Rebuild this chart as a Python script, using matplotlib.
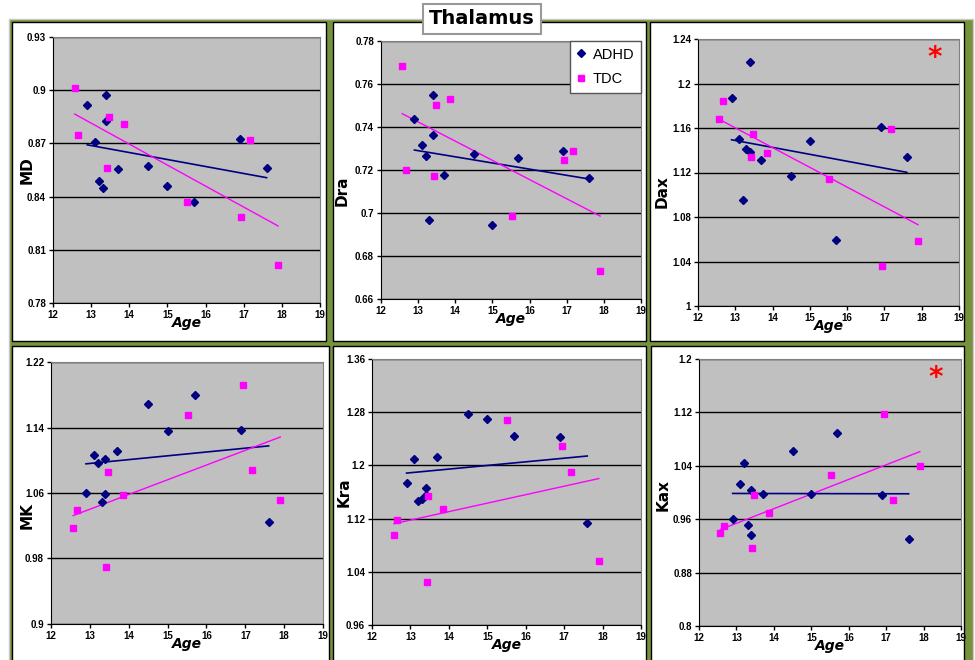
import matplotlib
matplotlib.use("Agg")
import matplotlib.pyplot as plt
from matplotlib.patches import Rectangle
import numpy as np

# ages of the two groups (same in every panel)
age_adhd = [12.9, 13.1, 13.2, 13.3, 13.4, 13.4, 13.7, 14.5, 15.0, 15.7, 16.9, 17.6]
age_tdc = [12.57, 12.66, 13.42, 13.47, 13.86, 15.52, 16.94, 17.17, 17.9]

md_adhd = [0.8914, 0.871, 0.849, 0.8449, 0.8971, 0.8827, 0.8555, 0.8572, 0.8458, 0.8367, 0.8725, 0.8559]
md_tdc = [0.9013, 0.8746, 0.8562, 0.885, 0.8812, 0.8369, 0.8286, 0.8721, 0.8016]

dra_adhd = [0.7437, 0.7316, 0.7263, 0.6968, 0.7551, 0.7361, 0.7178, 0.7276, 0.6945, 0.7256, 0.7287, 0.7163]
dra_tdc = [0.7684, 0.7198, 0.7174, 0.7503, 0.7528, 0.6988, 0.7245, 0.7287, 0.673]

dax_adhd = [1.1871, 1.1499, 1.0949, 1.1412, 1.2193, 1.1388, 1.1309, 1.1171, 1.1481, 1.0595, 1.1607, 1.134]
dax_tdc = [1.1682, 1.1844, 1.1343, 1.155, 1.1379, 1.1141, 1.0363, 1.1592, 1.0586]

mk_adhd = [1.0594, 1.1069, 1.0972, 1.0484, 1.1013, 1.0586, 1.1118, 1.1692, 1.1362, 1.1801, 1.137, 1.0248]
mk_tdc = [1.0171, 1.0398, 0.9699, 1.0862, 1.0577, 1.1557, 1.1919, 1.0886, 1.0516]

kra_adhd = [1.173, 1.2096, 1.147, 1.149, 1.1665, 1.156, 1.2121, 1.2773, 1.2693, 1.2437, 1.2422, 1.1134]
kra_tdc = [1.0948, 1.1174, 1.0247, 1.1545, 1.1339, 1.2688, 1.2287, 1.1906, 1.0567]

kax_adhd = [0.9605, 1.012, 1.044, 0.951, 1.003, 0.9365, 0.998, 1.062, 0.9975, 1.089, 0.997, 0.9305]
kax_tdc = [0.94, 0.9505, 0.9175, 0.997, 0.97, 1.0255, 1.117, 0.9895, 1.0395]

names = ["MD", "Dra", "Dax", "MK", "Kra", "Kax"]
adhd_vals = [md_adhd, dra_adhd, dax_adhd, mk_adhd, kra_adhd, kax_adhd]
tdc_vals = [md_tdc, dra_tdc, dax_tdc, mk_tdc, kra_tdc, kax_tdc]
y_ranges = [(0.78, 0.93, 0.03), (0.66, 0.78, 0.02), (1.0, 1.24, 0.04),
            (0.9, 1.22, 0.08), (0.96, 1.36, 0.08), (0.8, 1.2, 0.08)]
significant = [False, False, True, False, False, True]

W, H = 975, 660
fig = plt.figure(figsize=(W / 100, H / 100), dpi=100)
fig.patch.set_facecolor("white")


def box(x0, y0, x1, y1, **kw):
    # rectangle given in image pixels (origin top-left)
    r = Rectangle((x0 / W, 1 - y1 / H), (x1 - x0) / W, (y1 - y0) / H,
                  transform=fig.transFigure, **kw)
    fig.add_artist(r)


# green frame with the six white panels
box(9, 19, 973, 665, facecolor="#76923c", edgecolor="#c8c8c8", lw=1, zorder=-3)
panels = [(12, 22, 326, 341), (333, 22, 646, 341), (650, 22, 964, 341),
          (12, 346, 329, 665), (333, 346, 646, 665), (651, 346, 964, 665)]
for p in panels:
    box(*p, facecolor="white", edgecolor="black", lw=1, zorder=-2)

# plot areas (pixels: left, right, top, bottom)
areas = [(53, 320, 37, 303), (381, 641, 41, 299), (698, 959, 39, 306),
         (51, 323, 362, 624), (372, 641, 359, 625), (699, 961, 359, 626)]
ylabel_pos = [(-0.067, 0.5), (-0.12, 0.42), (-0.107, 0.43),
              (-0.06, 0.415), (-0.074, 0.5), (-0.11, 0.49)]

for i in range(6):
    l, r, t, b = areas[i]
    ax = fig.add_axes([l / W, 1 - b / H, (r - l) / W, (b - t) / H])
    ax.set_facecolor("#c0c0c0")
    ax.set_axisbelow(True)

    y0, y1, step = y_ranges[i]
    ax.set_xlim(12, 19)
    ax.set_ylim(y0, y1)
    ax.set_xticks(range(12, 20))
    yt = np.arange(y0, y1 + step / 2, step)
    ax.set_yticks(yt)
    ax.set_yticklabels([f"{round(v, 4):g}" for v in yt])
    ax.tick_params(direction="out", length=3, width=1, labelsize=7, pad=2)
    for lab in ax.get_xticklabels() + ax.get_yticklabels():
        lab.set_fontweight("bold")
        lab.set_family("Liberation Sans")
    ax.yaxis.grid(True, color="black", lw=1)

    for s in ["top", "right"]:
        ax.spines[s].set_color("#808080")
    for s in ["left", "bottom"]:
        ax.spines[s].set_color("black")

    xa = np.array(age_adhd)
    xt = np.array(age_tdc)
    ya = np.array(adhd_vals[i])
    yb = np.array(tdc_vals[i])

    ax.plot(xa, ya, "D", color="#000080", ms=3.6, ls="none", label="ADHD", zorder=3)
    ax.plot(xt, yb, "s", color="#ff00ff", ms=4.5, ls="none", label="TDC", zorder=3)

    # linear trend lines
    k, c = np.polyfit(xa, ya, 1)
    xx = np.array([xa.min(), xa.max()])
    ax.plot(xx, k * xx + c, color="#000080", lw=1.2, zorder=2)
    k, c = np.polyfit(xt, yb, 1)
    xx = np.array([xt.min(), xt.max()])
    ax.plot(xx, k * xx + c, color="#ff00ff", lw=1.0, zorder=2)

    ax.set_ylabel(names[i], fontsize=11, fontweight="bold", family="DejaVu Sans")
    ax.yaxis.set_label_coords(*ylabel_pos[i])
    ax.set_xlabel("Age", fontsize=10, fontweight="bold", style="italic", family="DejaVu Sans")
    ax.xaxis.set_label_coords(0.5, -0.05)

    if significant[i]:
        ax.text(0.905, 0.93, "*", transform=ax.transAxes, color="red",
                fontsize=20, fontweight="bold", ha="center", va="center")

    if i == 1:
        leg = ax.legend(loc="upper right", bbox_to_anchor=(1.0, 1.0), borderaxespad=0,
                        handlelength=0.6, handletextpad=0.5,
                        labelspacing=0.75, borderpad=0.45, fancybox=False,
                        framealpha=1, prop={"family": "Liberation Sans", "size": 10.5})
        leg.get_frame().set_edgecolor("#555555")

# title box
fig.text(482 / W, 1 - 19 / H, "Thalamus", ha="center", va="center", fontsize=14,
         fontweight="bold", family="DejaVu Sans", zorder=10,
         bbox=dict(boxstyle="square,pad=0.3", facecolor="white", edgecolor="#999999", lw=1.5))

fig.savefig("out.png", dpi=100)
